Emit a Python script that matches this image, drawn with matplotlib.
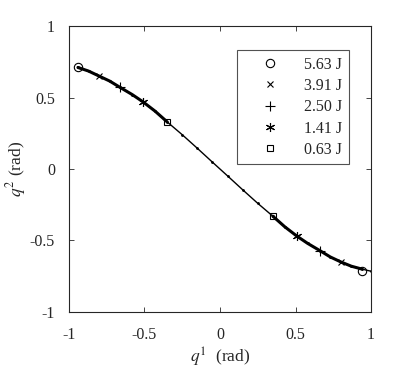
import matplotlib
matplotlib.use('Agg')
import matplotlib.pyplot as plt
import numpy as np

plt.rcParams['font.family'] = ['Liberation Serif', 'DejaVu Serif']
plt.rcParams['mathtext.fontset'] = 'stix'

# curve q2(q1)
q1_curve = [-0.94, -0.87, -0.80, -0.73, -0.66, -0.58, -0.51, -0.43, -0.35, -0.25, -0.15, -0.05,
            0.05, 0.15, 0.25, 0.35, 0.43, 0.51, 0.58, 0.66, 0.73, 0.80, 0.87, 0.94, 1.00]
q2_curve = [0.71, 0.685, 0.65, 0.615, 0.57, 0.52, 0.47, 0.405, 0.33, 0.24, 0.145, 0.048,
            -0.048, -0.145, -0.24, -0.33, -0.405, -0.47, -0.52, -0.57, -0.615, -0.65, -0.68, -0.70, -0.715]

# turning points for each energy level
energies = ['5.63 J', '3.91 J', '2.50 J', '1.41 J', '0.63 J']
q1_end = [0.94, 0.80, 0.66, 0.51, 0.35]
q2_end = [0.71, 0.65, 0.57, 0.47, 0.33]
markers = ['o', 'x', '+', (6, 2, 0), 's']
msizes = [6, 4.5, 7, 6.5, 5]

fig = plt.figure(figsize=(4.10, 3.69), dpi=100)
ax = fig.add_axes([0.168, 0.1545, 0.737, 0.775])

x = np.array(q1_curve)
y = np.array(q2_curve)
ax.plot(x, y, color='k', lw=1.0, zorder=2)
ax.plot(x, y, '.', color='k', ms=2, zorder=2)
outer = np.abs(x) >= 0.35
left = outer & (x < 0)
right = outer & (x > 0) & (x <= 0.94)
ax.plot(x[left], y[left], color='k', lw=2.2, solid_capstyle='round', zorder=2)
ax.plot(x[right], y[right], color='k', lw=2.2, solid_capstyle='round', zorder=2)

for lab, xe, ye, m, s in zip(energies, q1_end, q2_end, markers, msizes):
    ax.plot([-xe, xe], [ye, -ye], linestyle='none', marker=m, ms=s,
            mfc='none', mec='k', mew=0.8, color='k', label=lab, zorder=3)

ax.set_xlim(-1, 1)
ax.set_ylim(-1, 1)
ax.set_xticks([-1, -0.5, 0, 0.5, 1])
ax.set_yticks([-1, -0.5, 0, 0.5, 1])
ax.set_xticklabels(['-1', '-0.5', '0', '0.5', '1'])
ax.set_yticklabels(['-1', '-0.5', '0', '0.5', '1'])
ax.tick_params(direction='in', top=True, right=True, length=3.5, width=0.6,
               colors='#262626', labelsize=11.5)
ax.tick_params(axis='x', pad=11)
ax.tick_params(axis='y', pad=10)
for sp in ax.spines.values():
    sp.set_color('#262626')
    sp.set_linewidth(0.8)

ax.set_xlabel(r'$q^1$  (rad)', fontsize=12.5, color='#262626', labelpad=2)
ax.set_ylabel(r'$q^2$ (rad)', fontsize=12.5, color='#262626', labelpad=1)

leg = ax.legend(loc='upper right', bbox_to_anchor=(0.927, 0.915), frameon=True,
                fancybox=False, edgecolor='#262626', fontsize=11.5,
                handlelength=3.3, handletextpad=0.5, labelspacing=0.33,
                borderpad=0.4, borderaxespad=0, markerscale=1.0)
leg.get_frame().set_linewidth(0.8)
for t in leg.get_texts():
    t.set_color('#262626')

fig.savefig('out.png', dpi=100)
